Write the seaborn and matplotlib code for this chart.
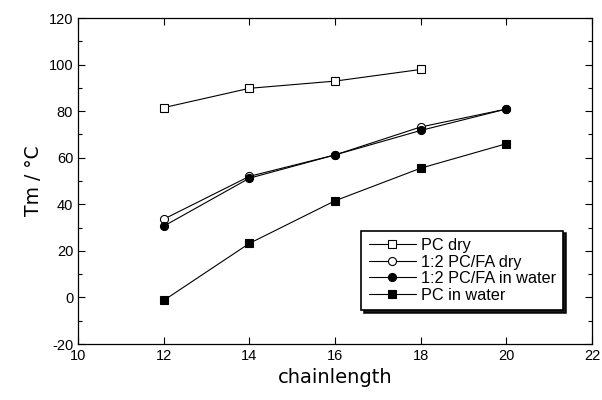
import matplotlib
matplotlib.use("Agg")
import matplotlib.pyplot as plt
from matplotlib.ticker import MultipleLocator
import seaborn as sns
import pandas as pd

# Melting temperatures versus acyl chain length
chain_pc_dry = [12, 14, 16, 18]
tm_pc_dry = [81.5, 89.8, 92.9, 97.9]

chain_mix_dry = [12, 14, 16, 18, 20]
tm_mix_dry = [33.6, 52.0, 61.2, 73.2, 80.9]

chain_mix_water = [12, 14, 16, 18, 20]
tm_mix_water = [30.6, 51.2, 61.2, 71.7, 80.9]

chain_pc_water = [12, 14, 16, 18, 20]
tm_pc_water = [-1.3, 23.2, 41.5, 55.5, 66.0]

labels = ["PC dry", "1:2 PC/FA dry", "1:2 PC/FA in water", "PC in water"]

sns.set_style("ticks")
plt.rcParams["font.family"] = ["Liberation Sans", "DejaVu Sans"]
plt.rcParams["axes.unicode_minus"] = False
plt.rcParams["text.color"] = "black"
plt.rcParams["axes.labelcolor"] = "black"

fig = plt.figure(figsize=(6.02, 4.0), dpi=100)
ax = fig.add_axes([0.1296, 0.14, 0.8538, 0.815])

series = [
    (chain_pc_dry, tm_pc_dry, labels[0], "s", "white"),
    (chain_mix_dry, tm_mix_dry, labels[1], "o", "white"),
    (chain_mix_water, tm_mix_water, labels[2], "o", "black"),
    (chain_pc_water, tm_pc_water, labels[3], "s", "black"),
]
for xs, ys, lab, mk, face in series:
    df = pd.DataFrame({"chainlength": xs, "Tm": ys})
    sns.lineplot(data=df, x="chainlength", y="Tm", ax=ax, color="black",
                 linewidth=0.8, marker=mk, markersize=5.8,
                 markerfacecolor=face, markeredgecolor="black",
                 markeredgewidth=0.8, label=lab)

ax.set_xlim(10, 22)
ax.set_ylim(-20, 120)
ax.xaxis.set_major_locator(MultipleLocator(2))
ax.yaxis.set_major_locator(MultipleLocator(20))
ax.yaxis.set_minor_locator(MultipleLocator(10))
ax.tick_params(which="both", direction="in", top=True, right=True,
               labelsize=10.5, colors="black")
ax.tick_params(which="major", length=5, width=0.8)
ax.tick_params(which="minor", length=3, width=0.8)
for s in ax.spines.values():
    s.set_linewidth(0.9)
    s.set_color("black")

ax.set_xlabel("chainlength", fontsize=14, family=["DejaVu Sans"])
ax.set_ylabel("Tm / °C", fontsize=13.5, family=["DejaVu Sans"])

leg = ax.legend(loc="lower right", bbox_to_anchor=(0.944, 0.104),
                borderaxespad=0, frameon=True, fancybox=False,
                shadow={"color": "black", "alpha": 0.9}, framealpha=1,
                edgecolor="black", fontsize=11.7, handlelength=2.9,
                labelspacing=0.1, borderpad=0.45, handletextpad=0.3,
                labelcolor="black")
leg.get_frame().set_linewidth(1.2)

fig.savefig("out.png", dpi=100)
